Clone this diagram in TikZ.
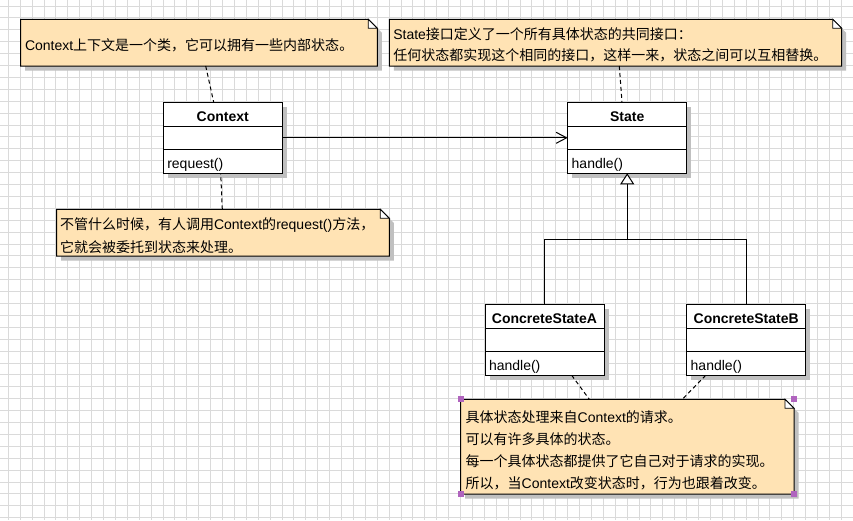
\documentclass[tikz,border=0pt]{standalone}
\usepackage{fontspec}
\setmainfont{Liberation Sans}
\newfontfamily\cjk{Noto Sans CJK SC}
\usetikzlibrary{arrows.meta}

\definecolor{notefill}{HTML}{FFE3B4}
\definecolor{shadowgray}{HTML}{C0C0C0}
\definecolor{gridgray}{HTML}{DADADA}
\definecolor{handlepurple}{HTML}{B064BE}

\pgfdeclarelayer{gridlayer}
\pgfdeclarelayer{shadowlayer}
\pgfsetlayers{gridlayer,shadowlayer,main}

% class box: name, top-left corner, title, operation
\newcommand\umlclass[4]{%
  \node[classbox] (#1) at (#2) {};
  \begin{pgfonlayer}{shadowlayer}
    \fill[shadowgray] ([xshift=4.5pt,yshift=-4.5pt]#1.north west) rectangle ([xshift=4.5pt,yshift=-4.5pt]#1.south east);
  \end{pgfonlayer}
  \node[classtitle] (#1-t) at ([yshift=-18.8pt]#1.north) {#3};
  \draw[boxline] ([yshift=-24.4pt]#1.north west) -- ([yshift=-24.4pt]#1.north east);
  \draw[boxline] ([yshift=-47.4pt]#1.north west) -- ([yshift=-47.4pt]#1.north east);
  \node[txt] (#1-op) at ([xshift=4pt,yshift=-65.8pt]#1.north west) {#4};
}

% note with folded corner: name, top-left corner, width, height
\newcommand\umlnote[4]{%
  \node[minimum width=#3pt, minimum height=#4pt, anchor=north west] (#1) at (#2) {};
  \begin{pgfonlayer}{shadowlayer}
    \fill[shadowgray] ([xshift=4.5pt,yshift=-4.5pt]#1.north west)
      -- ([xshift=-4.5pt,yshift=-4.5pt]#1.north east)
      -- ([xshift=4.5pt,yshift=-13.5pt]#1.north east)
      -- ([xshift=4.5pt,yshift=-4.5pt]#1.south east)
      -- ([xshift=4.5pt,yshift=-4.5pt]#1.south west) -- cycle;
  \end{pgfonlayer}
  \draw[noteline, fill=notefill] (#1.north west) -- ([xshift=-9pt]#1.north east)
      -- ([yshift=-9pt]#1.north east) -- (#1.south east) -- (#1.south west) -- cycle;
  \draw[foldline, fill=white] ([xshift=-9pt]#1.north east) -- ([xshift=-9pt,yshift=-9pt]#1.north east)
      -- ([yshift=-9pt]#1.north east) -- cycle;
}

\begin{document}
\begin{tikzpicture}[x=1pt, y=-1pt,
  every node/.style={inner sep=0pt, outer sep=0pt},
  txt/.style={anchor=base west, font=\fontsize{14}{17}\selectfont},
  classtitle/.style={anchor=base, font=\fontsize{14}{17}\selectfont\bfseries},
  classbox/.style={draw, line width=1pt, fill=white, anchor=north west,
    minimum width=119pt, minimum height=71pt},
  boxline/.style={line width=1pt},
  noteline/.style={line width=1pt},
  foldline/.style={line width=0.8pt},
  notelink/.style={line width=1pt, dash pattern=on 4pt off 3pt},
  assoc/.style={line width=1pt, -{Straight Barb[length=10.5pt,width=11pt]}},
  genline/.style={line width=1pt},
  gentip/.style={line width=1pt, -{Triangle[length=11pt,width=14pt,fill=white]}},
  gridline/.style={gridgray, line width=1pt},
  handle/.style={fill=handlepurple}
]
\useasboundingbox (0,0) rectangle (853,520);

% background grid
\begin{pgfonlayer}{gridlayer}
  \fill[white] (0,0) rectangle (853,520);
  \foreach \i in {0,...,71} {\draw[gridline] ({8.3+11.9*\i},0) -- ({8.3+11.9*\i},520);}
  \foreach \j in {0,...,43} {\draw[gridline] (0,{6+11.9*\j}) -- (853,{6+11.9*\j});}
\end{pgfonlayer}

% classes
\umlclass{ctx}{163.3,102.3}{Context}{request()}
\umlclass{state}{567.7,102.3}{State}{handle()}
\umlclass{csa}{485,304.3}{ConcreteStateA}{handle()}
\umlclass{csb}{686.7,304.3}{ConcreteStateB}{handle()}

% notes
\umlnote{n1}{20.7,19.3}{356.6}{46.7}
\umlnote{n2}{389.3,19.3}{452.4}{46.7}
\umlnote{n3}{56.7,209.3}{332.6}{46.7}
\umlnote{n4}{460.7,399.3}{333.3}{94.7}

\node[txt] (n1a) at (25,50.6) {Context{\cjk 上下文是一个类，它可以拥有一些内部状态。}};
\node[txt] (n2a) at (393.3,39.2) {State{\cjk 接口定义了一个所有具体状态的共同接口：}};
\node[txt] (n2b) at (393.3,60.9) {\cjk 任何状态都实现这个相同的接口，这样一来，状态之间可以互相替换。};
\node[txt] (n3a) at (60,229.8) {{\cjk 不管什么时候，有人调用}Context{\cjk 的}request(){\cjk 方法，}};
\node[txt] (n3b) at (60,252) {\cjk 它就会被委托到状态来处理。};
\node[txt] (n4a) at (465.7,422.6) {{\cjk 具体状态处理来自}Context{\cjk 的请求。}};
\node[txt] (n4b) at (465.7,444.5) {\cjk 可以有许多具体的状态。};
\node[txt] (n4c) at (465.7,466.3) {\cjk 每一个具体状态都提供了它自己对于请求的实现。};
\node[txt] (n4d) at (465.7,488) {{\cjk 所以，当}Context{\cjk 改变状态时，行为也跟着改变。}};

% selection handles on the lower note
\foreach \c in {north west, north east, south west, south east}
  \fill[handle] ([xshift=-3pt,yshift=-3pt]n4.\c) rectangle ([xshift=3pt,yshift=3pt]n4.\c);

% association Context -> State
\draw[assoc] (ctx.east) -- (state.west);

% generalisation
\coordinate (jn) at (627.2,239.3);
\draw[genline] (csa.north) |- (jn) -| (csb.north);
\draw[gentip] (jn) -- (state.south);

% note links
\draw[notelink] ([xshift=185pt]n1.south west) -- ([xshift=50.4pt]ctx.north west);
\draw[notelink] ([xshift=165.6pt]n3.north west) -- ([xshift=57.4pt]ctx.south west);
\draw[notelink] ([xshift=230pt]n2.south west) -- ([xshift=54.3pt]state.north west);
\draw[notelink] ([xshift=86.7pt]csa.south west) -- ([xshift=128.6pt]n4.north west);
\draw[notelink] ([xshift=19pt]csb.south west) -- ([xshift=221.6pt]n4.north west);
\end{tikzpicture}
\end{document}
